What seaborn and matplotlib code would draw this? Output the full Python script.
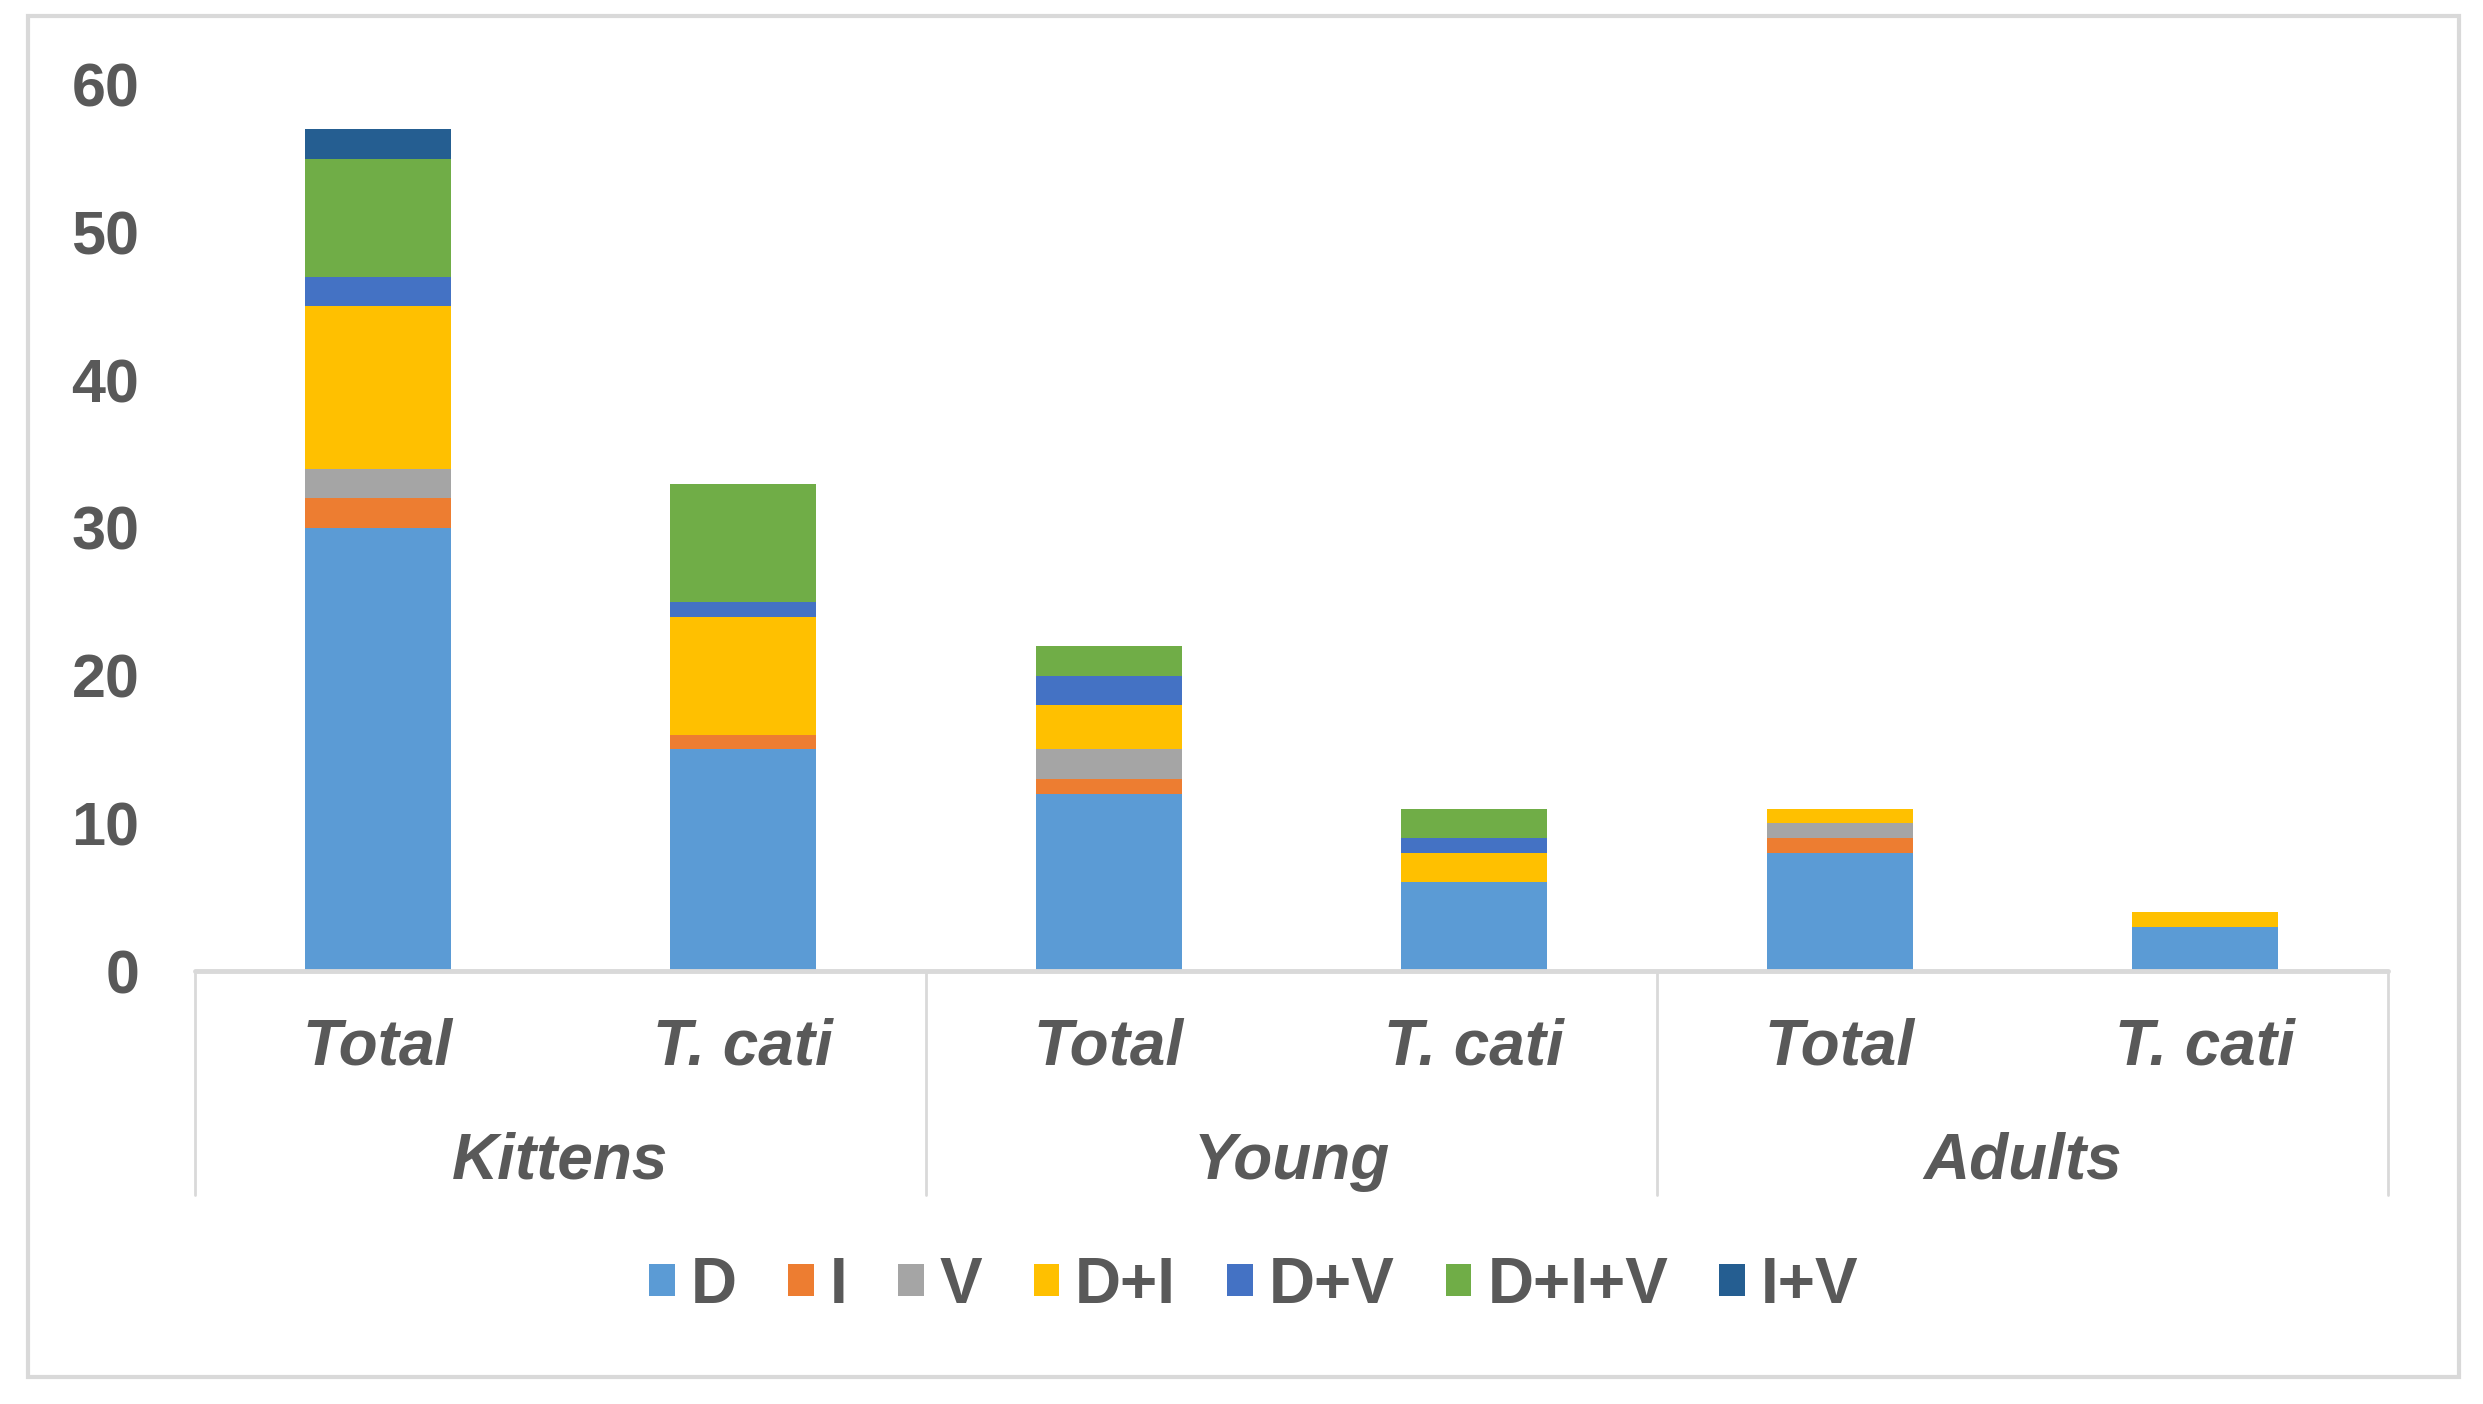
import numpy as np
import pandas as pd
import seaborn as sns
import matplotlib.pyplot as plt

# data
groups = ["Kittens", "Young", "Adults"]
subcats = ["Total", "T. cati"]
series = ["D", "I", "V", "D+I", "D+V", "D+I+V", "I+V"]
D = [30, 15, 12, 6, 8, 3]
I = [2, 1, 1, 0, 1, 0]
V = [2, 0, 2, 0, 1, 0]
DI = [11, 8, 3, 2, 1, 1]
DV = [2, 1, 2, 1, 0, 0]
DIV = [8, 8, 2, 2, 0, 0]
IV = [2, 0, 0, 0, 0, 0]
colors = ["#5B9BD5", "#ED7D31", "#A5A5A5", "#FFC000", "#4472C4", "#70AD47", "#255E91"]

values = [D, I, V, DI, DV, DIV, IV]
keys = [f"{g}|{s}" for g in groups for s in subcats]

sns.set_theme(style="white")
plt.rcParams["font.family"] = ["Liberation Sans", "DejaVu Sans"]
txt = "#595959"
fs = 44
fs_cat = 46

fig = plt.figure(figsize=(24.83, 14.04), dpi=100)
ax = fig.add_axes([0.0785, 0.3084, 0.9617 - 0.0785, 0.9395 - 0.3084])

bottom = np.zeros(len(keys))
for name, vals, c in zip(series, values, colors):
    df = pd.DataFrame({"cat": keys, "val": vals})
    sns.barplot(data=df, x="cat", y="val", order=keys, color=c, width=0.4,
                bottom=bottom.copy(), ax=ax, label=name, linewidth=0,
                saturation=1)
    bottom += np.array(vals)

ax.set_xlim(-0.5, 5.5)
ax.set_ylim(0, 60)
ax.set_yticks(range(0, 61, 10))
ax.tick_params(axis="y", length=0, pad=40, labelsize=fs, labelcolor=txt)
for t in ax.get_yticklabels():
    t.set_fontweight("bold")
ax.set_xticks([])
ax.set_xlabel("")
ax.set_ylabel("")
for s in ax.spines.values():
    s.set_visible(False)

# category axis: baseline, separators and two-level labels
line_c = "#D9D9D9"
ax.plot([-0.5, 5.5], [0, 0], color=line_c, lw=3.5, clip_on=False, zorder=5)
trans = ax.get_xaxis_transform()
for xb in [-0.5, 1.5, 3.5, 5.5]:
    ax.plot([xb, xb], [0, -0.253], color=line_c, lw=2, transform=trans, clip_on=False)
for i, k in enumerate(keys):
    ax.text(i, -0.086, k.split("|")[1], transform=trans, ha="center", va="center",
            fontsize=fs_cat, fontweight="bold", fontstyle="italic", color=txt)
for j, g in enumerate(groups):
    ax.text(2 * j + 0.5, -0.215, g, transform=trans, ha="center", va="center",
            fontsize=fs_cat, fontweight="bold", fontstyle="italic", color=txt)

leg = ax.legend(loc="center", bbox_to_anchor=(0.505, 0.084), bbox_transform=fig.transFigure,
                ncol=7, frameon=False, fontsize=fs_cat, handlelength=0.4, handleheight=0.4,
                handletextpad=0.25, columnspacing=0.8)
for t in leg.get_texts():
    t.set_fontweight("bold")
    t.set_color(txt)

# outer frame of the chart area
fig.patches.append(plt.Rectangle((28 / 2483, 1 - 1377 / 1404), (2459 - 28) / 2483,
                                 (1377 - 16) / 1404, transform=fig.transFigure,
                                 fill=False, edgecolor=line_c, lw=3))

fig.savefig("out.png", dpi=100)
